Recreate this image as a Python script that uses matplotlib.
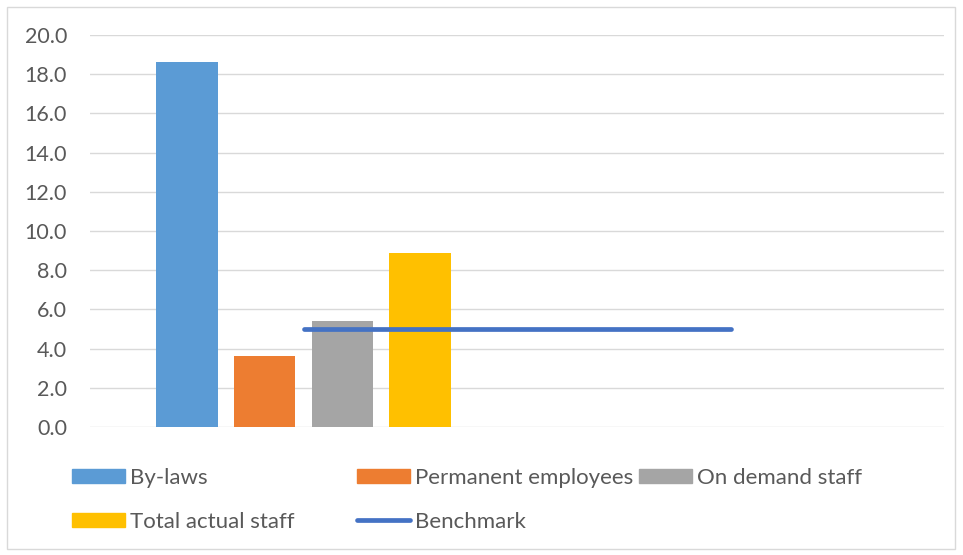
import numpy as np
import matplotlib
matplotlib.use("Agg")
import matplotlib.pyplot as plt
from matplotlib.patches import Patch, Rectangle
from matplotlib.lines import Line2D

plt.rcParams['font.family'] = ['Lato', 'DejaVu Sans']

# ---- data ----
categories = ["", ""]
series_names = ["By-laws", "Permanent employees", "On demand staff", "Total actual staff"]
bylaws = [18.6, np.nan]
permanent = [3.6, np.nan]
on_demand = [5.4, np.nan]
total_actual = [8.9, np.nan]
benchmark = [5.0, 5.0]
yticks = [0, 2, 4, 6, 8, 10, 12, 14, 16, 18, 20]

colors = ["#5B9BD5", "#ED7D31", "#A5A5A5", "#FFC000"]
line_color = "#4472C4"
text_color = "#595959"
grid_color = "#D9D9D9"

W, H = 963, 555
fig = plt.figure(figsize=(W / 100, H / 100), dpi=100)
ax = fig.add_axes([90 / W, 1 - 427 / H, 854 / W, 392 / H])

x = np.arange(len(categories))
pitch = 0.1825
bw = 0.145
all_series = [bylaws, permanent, on_demand, total_actual]
for i, (vals, c) in enumerate(zip(all_series, colors)):
    off = (i - 1.5) * pitch
    ax.bar(x + off, vals, width=bw, color=c, zorder=3)

ax.plot(x, benchmark, color=line_color, lw=3.4, solid_capstyle='round', zorder=4)

ax.set_xlim(-0.5, 1.5)
ax.set_ylim(0, 20)
ax.set_yticks(yticks)
ax.set_yticklabels([f"{v:.1f}" for v in yticks])
ax.set_xticks([])
ax.tick_params(axis='y', length=0, pad=16.5, labelsize=15.5, labelcolor=text_color)
for s in ax.spines.values():
    s.set_visible(False)
ax.grid(axis='y', color=grid_color, lw=1.0, zorder=0)
ax.set_axisbelow(True)

# chart border
fig.patches.append(Rectangle((7 / W, 1 - 549 / H), 948 / W, 542 / H,
                             transform=fig.transFigure, fill=False,
                             edgecolor=grid_color, lw=1.0))

# legend (Excel-like grid layout)
fs = 16
px_em = fs * 100 / 72
handles = [Patch(color=c) for c in colors] + [Line2D([], [], color=line_color, lw=3.4, solid_capstyle='round')]
labels = series_names + ["Benchmark"]
positions = [(72, 478), (357, 478), (639, 478), (72, 522), (357, 522)]
for h, lab, (px, py) in zip(handles, labels, positions):
    fig.legend([h], [lab], loc='center left',
               bbox_to_anchor=(px / W, 1 - py / H),
               frameon=False, fontsize=fs, labelcolor=text_color,
               handlelength=53 / px_em, handleheight=14 / px_em,
               handletextpad=5 / px_em, borderpad=0, borderaxespad=0)

fig.savefig("out.png", dpi=100)
